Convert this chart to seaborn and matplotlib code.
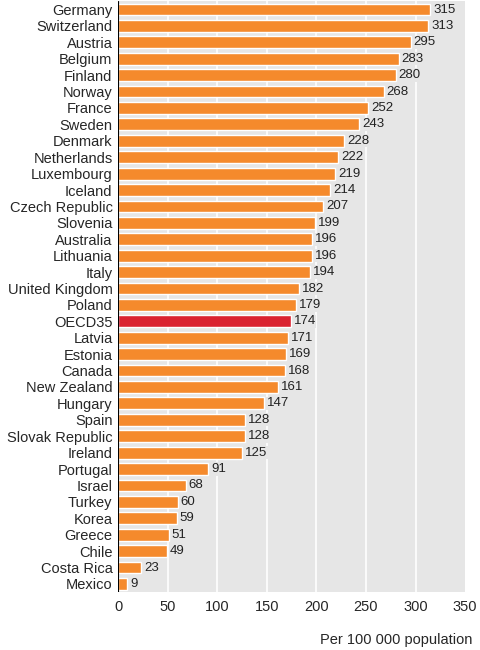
import matplotlib
matplotlib.use("Agg")
import matplotlib.pyplot as plt
import seaborn as sns
import pandas as pd

countries = ["Germany", "Switzerland", "Austria", "Belgium", "Finland", "Norway", "France",
             "Sweden", "Denmark", "Netherlands", "Luxembourg", "Iceland", "Czech Republic",
             "Slovenia", "Australia", "Lithuania", "Italy", "United Kingdom", "Poland", "OECD35",
             "Latvia", "Estonia", "Canada", "New Zealand", "Hungary", "Spain", "Slovak Republic",
             "Ireland", "Portugal", "Israel", "Turkey", "Korea", "Greece", "Chile", "Costa Rica",
             "Mexico"]
values = [315, 313, 295, 283, 280, 268, 252, 243, 228, 222, 219, 214, 207, 199, 196, 196, 194,
          182, 179, 174, 171, 169, 168, 161, 147, 128, 128, 125, 91, 68, 60, 59, 51, 49, 23, 9]

df = pd.DataFrame({"country": countries, "value": values})
palette = ["#DA2230" if c == "OECD35" else "#F58A2C" for c in countries]

sns.set_style("white")
plt.rcParams["font.family"] = ["Liberation Sans", "DejaVu Sans"]

fig = plt.figure(figsize=(4.8, 6.5), dpi=100)
ax = fig.add_axes([0.246, 0.089, 0.723, 0.909])
ax.set_facecolor("#E6E6E6")
for x in range(50, 350, 50):
    ax.axvline(x, color="white", lw=1.2, zorder=0)

sns.barplot(data=df, y="country", x="value", hue="country", palette=palette,
            saturation=1, legend=False, width=0.72, ax=ax, zorder=2)

for i, v in enumerate(values):
    ax.text(v + 3, i, str(v), va="center", ha="left", fontsize=9.5, color="#222222",
            bbox=dict(facecolor="#E6E6E6", edgecolor="none", pad=0.5), zorder=3)

ax.set_xlim(0, 350)
ax.set_ylim(len(countries) - 0.5, -0.5)
ax.set_xticks(range(0, 351, 50))
ax.tick_params(axis="x", labelsize=10.5, length=0, pad=6)
ax.tick_params(axis="y", labelsize=10.5, length=0, pad=4)
ax.set_ylabel("")
ax.set_xlabel("")
for s in ax.spines.values():
    s.set_visible(False)
ax.axvline(0, color="black", lw=0.8, zorder=4)
fig.text(0.985, 0.005, "Per 100 000 population", ha="right", va="bottom", fontsize=10.5)

fig.savefig("out.png", dpi=100)
